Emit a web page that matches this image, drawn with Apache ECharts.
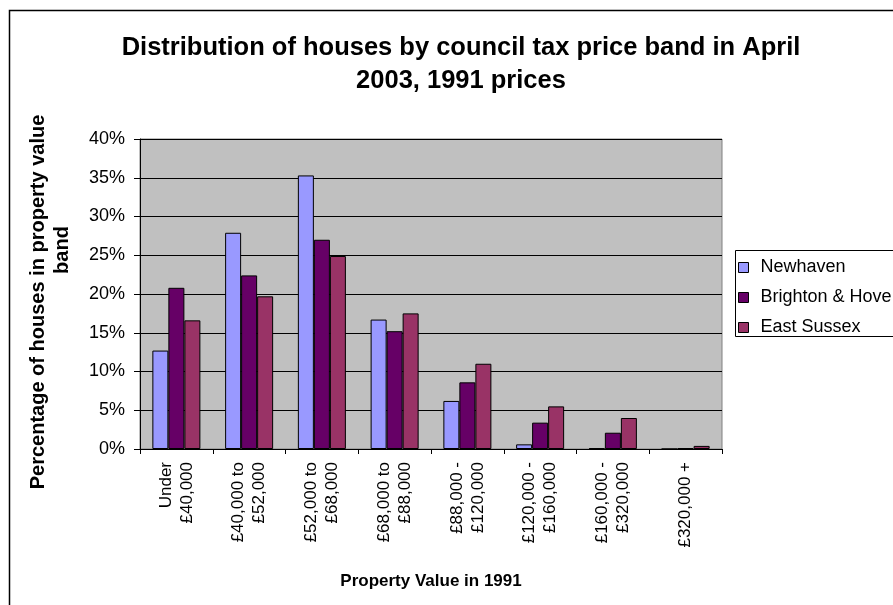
<!DOCTYPE html>
<html>
<head>
<meta charset="utf-8">
<style>
  html, body { margin: 0; padding: 0; background: #fff; }
  #chart { width: 893px; height: 605px; }
</style>
<script src="https://cdn.jsdelivr.net/npm/echarts@6/dist/echarts.min.js"></script>
</head>
<body>
<div id="chart"></div>
<script>
// Council tax price bands (1991 property values)
const bands = [
  'Under\n£40,000',
  '£40,000 to\n£52,000',
  '£52,000 to\n£68,000',
  '£68,000 to\n£88,000',
  '£88,000 -\n£120,000',
  '£120,000 -\n£160,000',
  '£160,000 -\n£320,000',
  '£320,000 +'
];

// Share of houses in each band, percent
const newhaven      = [12.7, 27.9, 35.3, 16.7, 6.2, 0.6, 0.1, 0.0];
const brightonHove  = [20.8, 22.4, 27.0, 15.2, 8.6, 3.4, 2.1, 0.1];
const eastSussex    = [16.6, 19.7, 24.9, 17.5, 11.0, 5.5, 4.0, 0.4];

const seriesNames = ['Newhaven', 'Brighton & Hove', 'East Sussex'];
const seriesColors = ['#9999FF', '#660066', '#993366'];

const FONT = '"Liberation Sans", Arial, sans-serif';

const chart = echarts.init(document.getElementById('chart'), null, { renderer: 'canvas' });

const barSeries = [newhaven, brightonHove, eastSussex].map((values, i) => ({
  name: seriesNames[i],
  type: 'bar',
  data: values,
  barGap: '0%',
  barCategoryGap: '34%',
  itemStyle: { color: seriesColors[i], borderColor: '#000', borderWidth: 1 },
  emphasis: { disabled: true }
}));

chart.setOption({
  animation: false,
  backgroundColor: '#fff',
  textStyle: { fontFamily: FONT },
  title: {
    text: 'Distribution of houses by council tax price band in April\n2003, 1991 prices',
    left: 461,
    top: 31,
    textAlign: 'center',
    padding: 0,
    textStyle: {
      fontFamily: FONT,
      fontSize: 25.5,
      fontWeight: 'bold',
      lineHeight: 33,
      color: '#000'
    }
  },
  legend: {
    orient: 'vertical',
    left: 735,
    top: 250,
    padding: [8, 3, 3, 3],
    itemGap: 11,
    itemWidth: 10,
    itemHeight: 10,
    icon: 'rect',
    borderWidth: 0,
    selectedMode: false,
    itemStyle: { borderColor: '#000', borderWidth: 1 },
    textStyle: {
      fontFamily: FONT,
      fontSize: 18,
      lineHeight: 19,
      color: '#000',
      padding: [0, 0, 0, 7]
    },
    data: seriesNames
  },
  grid: {
    left: 140,
    right: 171,
    top: 139,
    bottom: 156,
    show: true,
    backgroundColor: '#C0C0C0',
    borderColor: '#808080',
    borderWidth: 1,
    containLabel: false
  },
  xAxis: {
    type: 'category',
    data: bands,
    boundaryGap: true,
    name: 'Property Value in 1991',
    nameLocation: 'middle',
    nameGap: 124,
    nameTextStyle: { fontFamily: FONT, fontSize: 17, fontWeight: 'bold', color: '#000' },
    axisLine: { show: true, lineStyle: { color: '#000', width: 1 } },
    axisTick: { show: true, alignWithLabel: false, length: 5, lineStyle: { color: '#000' } },
    axisLabel: {
      rotate: 90,
      interval: 0,
      margin: 13,
      fontFamily: FONT,
      fontSize: 17,
      lineHeight: 21,
      color: '#000'
    },
    splitLine: { show: false }
  },
  yAxis: {
    type: 'value',
    min: 0,
    max: 40,
    interval: 5,
    axisLine: { show: true, lineStyle: { color: '#000', width: 1 } },
    axisTick: { show: true, length: 6, lineStyle: { color: '#000' } },
    axisLabel: {
      formatter: '{value}%',
      margin: 15,
      fontFamily: FONT,
      fontSize: 18,
      color: '#000'
    },
    splitLine: { show: true, lineStyle: { color: '#000', width: 1 } }
  },
  graphic: [
    {
      // outer chart frame (runs off the right and bottom edges)
      type: 'rect',
      silent: true,
      shape: { x: 9.5, y: 10.5, width: 1000, height: 1000 },
      style: { fill: 'none', stroke: '#000', lineWidth: 1.5 }
    },
    {
      // legend frame, open past the right edge
      type: 'rect',
      silent: true,
      z: -1,
      shape: { x: 735.5, y: 250.5, width: 300, height: 86 },
      style: { fill: '#fff', stroke: '#000', lineWidth: 1 }
    },
    {
      type: 'text',
      silent: true,
      x: 38,
      y: 302,
      rotation: Math.PI / 2,
      style: {
        text: 'Percentage of houses in property value',
        fontFamily: FONT,
        fontSize: 20,
        fontWeight: 'bold',
        fill: '#000',
        align: 'center',
        verticalAlign: 'middle'
      }
    },
    {
      type: 'text',
      silent: true,
      x: 62,
      y: 250,
      rotation: Math.PI / 2,
      style: {
        text: 'band',
        fontFamily: FONT,
        fontSize: 20,
        fontWeight: 'bold',
        fill: '#000',
        align: 'center',
        verticalAlign: 'middle'
      }
    }
  ],
  series: barSeries
});
</script>
</body>
</html>
